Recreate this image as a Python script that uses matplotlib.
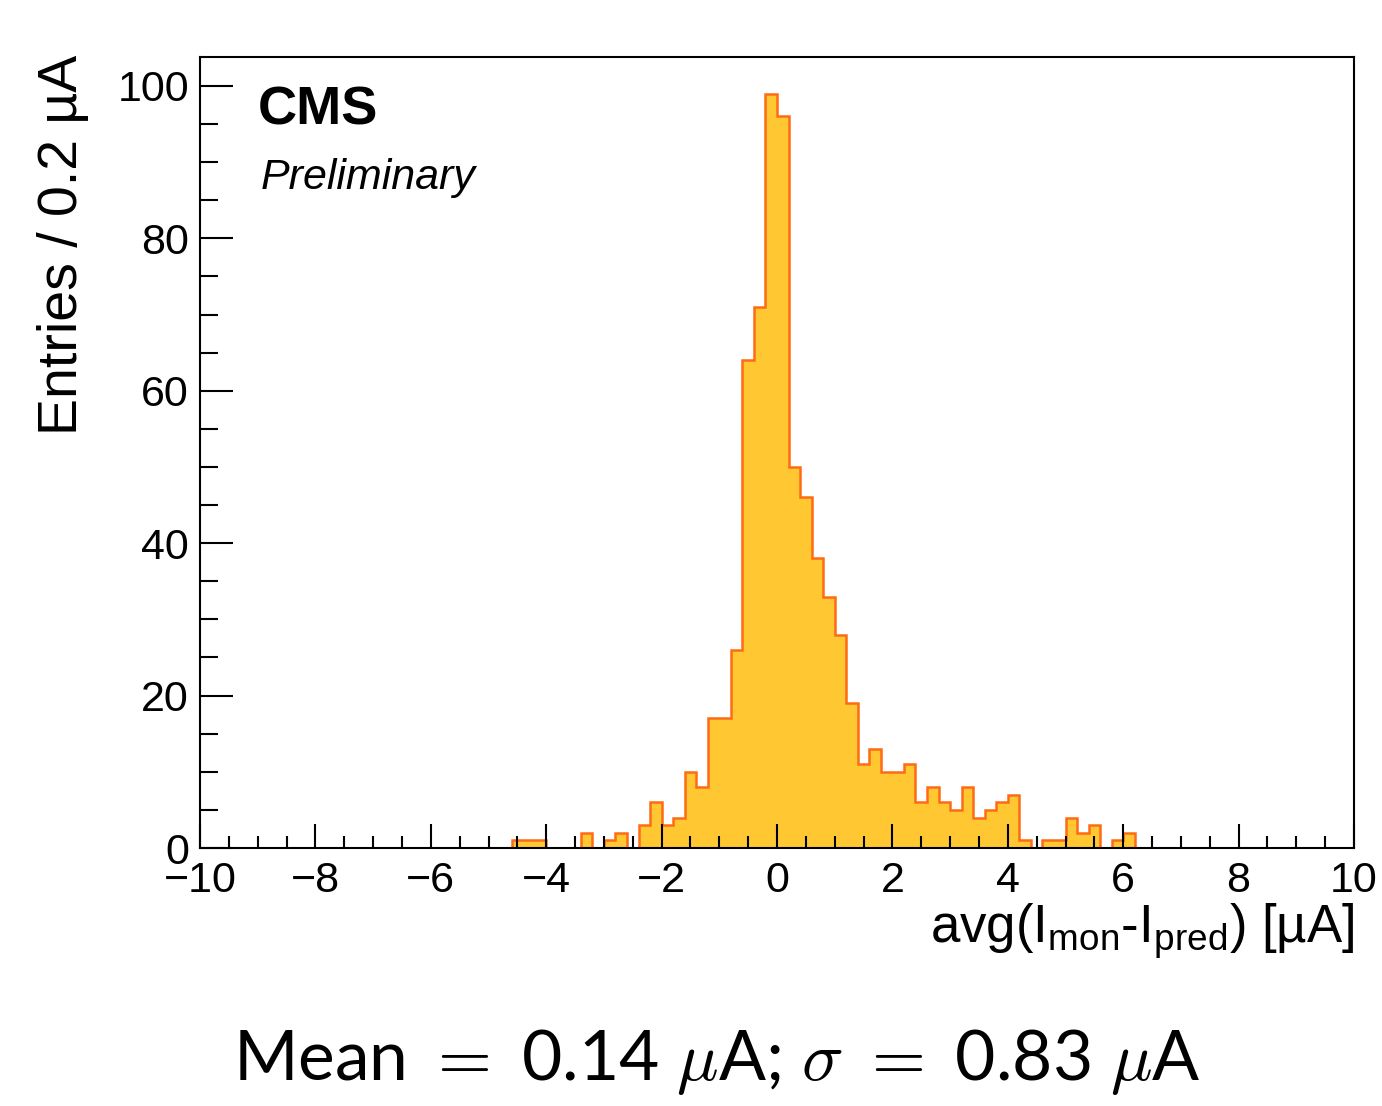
import numpy as np
import matplotlib
matplotlib.use('Agg')
import matplotlib.pyplot as plt
from matplotlib.ticker import MultipleLocator

plt.rcParams['font.family'] = 'Liberation Sans'
plt.rcParams['mathtext.fontset'] = 'custom'
plt.rcParams['mathtext.rm'] = 'Liberation Sans'
plt.rcParams['mathtext.it'] = 'Liberation Sans:italic'
plt.rcParams['mathtext.bf'] = 'Liberation Sans:bold'

# non-empty bins (lower edge, 0.2 uA wide) and their entries
bin_low = [-4.6, -4.4, -4.2, -3.4, -3.0, -2.8, -2.4, -2.2, -2.0, -1.8,
           -1.6, -1.4, -1.2, -1.0, -0.8, -0.6, -0.4, -0.2, 0.0, 0.2,
           0.4, 0.6, 0.8, 1.0, 1.2, 1.4, 1.6, 1.8, 2.0, 2.2,
           2.4, 2.6, 2.8, 3.0, 3.2, 3.4, 3.6, 3.8, 4.0, 4.2,
           4.6, 4.8, 5.0, 5.2, 5.4, 5.8, 6.0]
entries = [1, 1, 1, 2, 1, 2, 3, 6, 3, 4,
           10, 8, 17, 17, 26, 64, 71, 99, 96, 50,
           46, 38, 33, 28, 19, 11, 13, 10, 10, 11,
           6, 8, 6, 5, 8, 4, 5, 6, 7, 1,
           1, 1, 4, 2, 3, 1, 2]
bin_width = 0.2
edges = np.linspace(-10, 10, 101)

fig = plt.figure(figsize=(13.82, 11.06), dpi=100)
ax = fig.add_axes([200/1382, 1 - 848/1106, 1154/1382, 791/1106])

centers = np.array(bin_low) + bin_width / 2
ax.hist(centers, bins=edges, weights=entries, histtype='stepfilled',
        facecolor='#ffc832', edgecolor='#ff6a14', linewidth=1.8)

ax.set_xlim(-10, 10)
ax.set_ylim(0, 103.8)
ax.xaxis.set_major_locator(MultipleLocator(2))
ax.xaxis.set_minor_locator(MultipleLocator(0.5))
ax.yaxis.set_major_locator(MultipleLocator(20))
ax.yaxis.set_minor_locator(MultipleLocator(5))
ax.tick_params(axis='x', which='major', direction='in', length=17, width=1.5,
               labelsize=31, pad=9)
ax.tick_params(axis='x', which='minor', direction='in', length=8.5, width=1.5)
ax.tick_params(axis='y', which='major', direction='in', length=24, width=1.5,
               labelsize=31, pad=8)
ax.tick_params(axis='y', which='minor', direction='in', length=13, width=1.5)
for s in ax.spines.values():
    s.set_linewidth(1.5)

fig.text(63/1382, 1 - 55/1106, 'Entries / 0.2 µA', rotation=90,
         ha='center', va='top', fontsize=40)
fig.text(1354/1382, 1 - 943/1106, r'avg(I$_{\mathrm{mon}}$-I$_{\mathrm{pred}}$) [µA]',
         ha='right', va='baseline', fontsize=38)

ax.text(258/1382, 1 - 110/1106, 'CMS', transform=fig.transFigure,
        fontsize=39, fontweight='bold', ha='left', va='center')
ax.text(261/1382, 1 - 178/1106, 'Preliminary', transform=fig.transFigure,
        fontsize=31, fontstyle='italic', ha='left', va='center')

fig.text(717/1382, 1 - 1062/1106,
         r'Mean $=$ 0.14 $\mu$A; $\sigma$ $=$ 0.83 $\mu$A',
         ha='center', va='center', fontsize=50, family='Lato',
         math_fontfamily='cm')

fig.savefig('out.png', dpi=100)
